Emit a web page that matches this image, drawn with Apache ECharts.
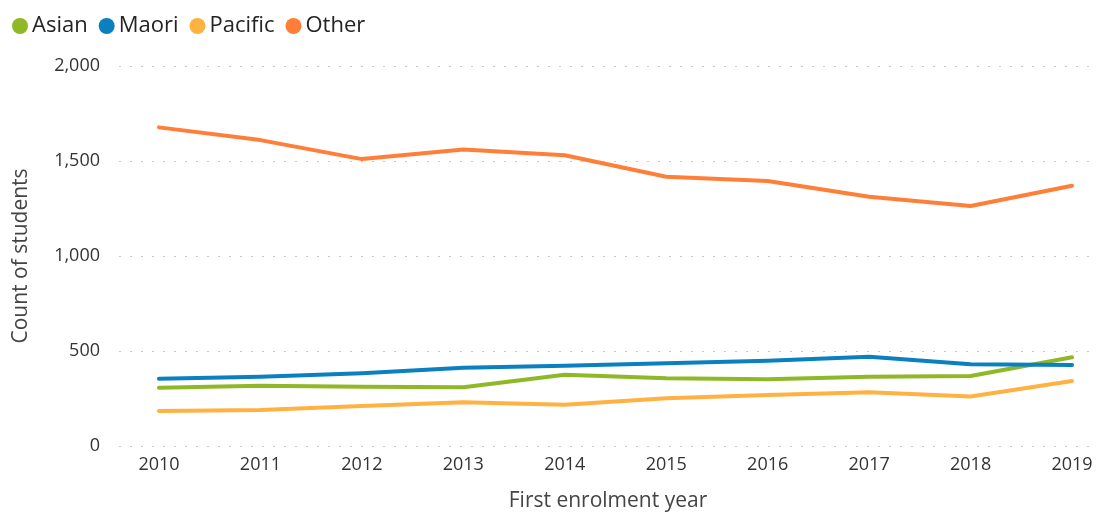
<!DOCTYPE html>
<html>
<head>
<meta charset="utf-8">
<script src="https://cdn.jsdelivr.net/npm/echarts@6/dist/echarts.min.js"></script>
<style>
  html, body { margin: 0; padding: 0; background: #fff; }
  #chart { width: 1104px; height: 512px; }
</style>
</head>
<body>
<div id="chart"></div>
<script>
// years on the x axis
var years = [2010, 2011, 2012, 2013, 2014, 2015, 2016, 2017, 2018, 2019];
// count of students per group
var asian   = [307, 317, 312, 309, 375, 356, 351, 365, 368, 467];
var maori   = [354, 365, 383, 412, 423, 435, 449, 470, 430, 426];
var pacific = [184, 189, 210, 230, 217, 251, 268, 283, 260, 342];
var other   = [1677, 1610, 1510, 1561, 1530, 1417, 1395, 1312, 1263, 1370];
var yTicks  = [0, 500, 1000, 1500, 2000];

function pairs(vals) {
    return years.map(function (y, i) { return [y, vals[i]]; });
}

var font = '"Open Sans", "Noto Sans", sans-serif';
var chart = echarts.init(document.getElementById('chart'));

function line(name, color, vals) {
    return {
        name: name,
        type: 'line',
        data: pairs(vals),
        showSymbol: false,
        symbol: 'circle',
        lineStyle: { width: 4, color: color, cap: 'round', join: 'round' },
        itemStyle: { color: color }
    };
}

chart.setOption({
    animation: false,
    legend: {
        left: 7,
        top: 10,
        icon: 'circle',
        itemWidth: 16,
        itemHeight: 16,
        itemGap: 11,
        textStyle: { color: '#252423', fontSize: 22, fontFamily: font, padding: [0, 0, 0, -1] },
        data: ['Asian', 'Maori', 'Pacific', 'Other']
    },
    grid: { left: 119, right: 7, top: 66, bottom: 66, outerBoundsMode: 'none' },
    xAxis: {
        type: 'value',
        min: 2009.606,
        max: 2019.246,
        name: 'First enrolment year',
        nameLocation: 'middle',
        nameGap: 45,
        nameTextStyle: { color: '#444', fontSize: 21, fontFamily: font },
        axisLine: { show: false },
        axisTick: { show: false },
        splitLine: { show: false },
        axisLabel: {
            customValues: years,
            color: '#333',
            fontSize: 18,
            fontFamily: font,
            margin: 10,
            formatter: function (v) { return String(v); }
        }
    },
    yAxis: {
        type: 'value',
        min: 0,
        max: 2000,
        interval: 500,
        name: 'Count of students',
        nameLocation: 'middle',
        nameGap: 87,
        nameTextStyle: { color: '#444', fontSize: 21, fontFamily: font },
        axisLine: { show: false },
        axisTick: { show: false },
        axisLabel: {
            customValues: yTicks,
            color: '#333',
            fontSize: 18,
            fontFamily: font,
            margin: 19
        },
        splitLine: { lineStyle: { color: '#c8c8c8', type: [2, 9], width: 1 } }
    },
    series: [
        line('Asian', '#8FB826', asian),
        line('Maori', '#0A80C1', maori),
        line('Pacific', '#FFB142', pacific),
        line('Other', '#FF7F38', other)
    ]
});
</script>
</body>
</html>
